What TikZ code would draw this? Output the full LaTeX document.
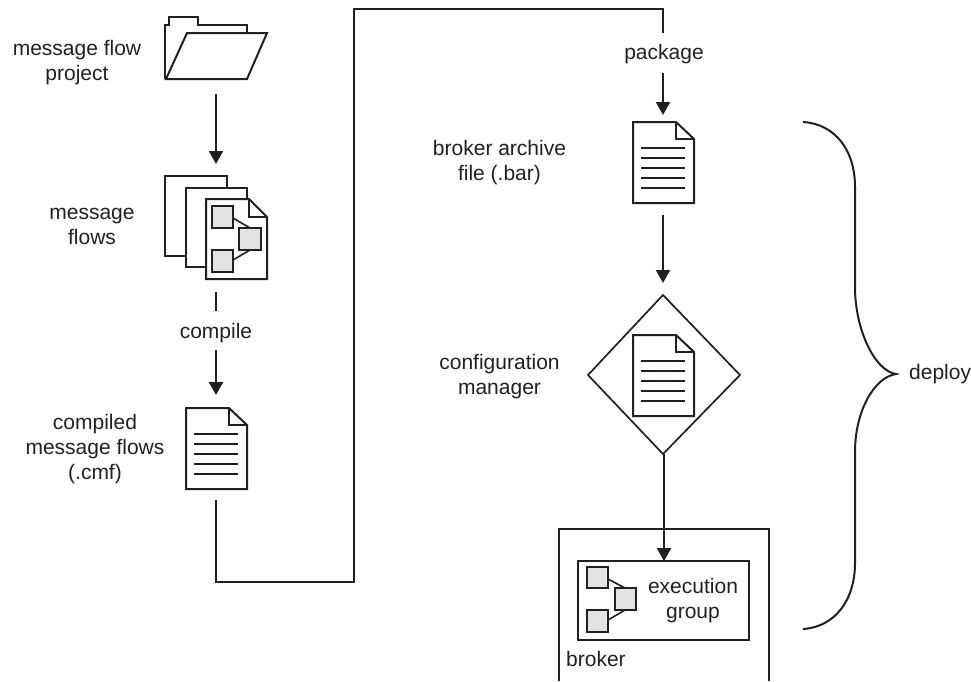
\documentclass[tikz,border=0pt]{standalone}
\usepackage{fontspec}
\setmainfont{Liberation Sans}
\usetikzlibrary{arrows.meta}
\definecolor{ink}{HTML}{231F20}
\definecolor{boxfill}{HTML}{E2E3E4}
\tikzset{
  x=1pt,y=-1pt,
  line/.style={draw=ink,line width=2pt,line join=miter},
  thin line/.style={draw=ink,line width=1.6pt},
  arrowed/.style={draw=ink,line width=2.2pt,-{Triangle[width=14pt,length=13pt]}},
  label/.style={font=\fontsize{21}{25}\selectfont,text=ink,align=center,inner sep=0pt},
  mini/.style={line,fill=boxfill},
  pagebox/.style={line,fill=white},
}
\newcommand{\docicon}[2]{%
  \begin{scope}[shift={(#1,#2)}]
  \draw[pagebox] (0,0) -- (43,0) -- (61,17) -- (61,81) -- (0,81) -- cycle;
  \draw[line] (43,0) -- (43,17) -- (61,17);
  \foreach \yy in {26,36,46,56,66}{\draw[thin line] (8,\yy) -- (52,\yy);}
  \end{scope}}
\begin{document}
\begin{tikzpicture}
\useasboundingbox (0,0) rectangle (971,681);
% folder
\draw[line] (165,79) -- (165,25) -- (169,25) -- (169,17) -- (198,17) -- (198,25) -- (247,25) -- (247,33);
\draw[line] (166,79) -- (187,33) -- (267,33) -- (247,79) -- cycle;
\coordinate (folderout) at (216,94);
\coordinate (flowsin) at (216,164);
\draw[arrowed] (folderout) -- (flowsin);
% message flows
\draw[pagebox] (165,176) rectangle (227,256);
\draw[pagebox] (186,188) rectangle (247,267);
\draw[pagebox] (206,199) -- (249,199) -- (267,217) -- (267,279) -- (206,279) -- cycle;
\draw[line] (249,199) -- (249,217) -- (267,217);
\draw[thin line] (233,218) -- (250,228);
\draw[thin line] (233,260) -- (250,250);
\draw[mini] (212,206) rectangle (233,228);
\draw[mini] (239,228) rectangle (261,250);
\draw[mini] (212,250) rectangle (233,272);
\coordinate (flowsout) at (216,292);
\coordinate (compiletop) at (216,311);
\draw[line] (flowsout) -- (compiletop);
\node[label] (compile) at (216,333) {compile};
\coordinate (compileout) at (216,350);
\coordinate (cmfin) at (216,395);
\draw[arrowed] (compileout) -- (cmfin);
\docicon{186}{408}
% long connector
\coordinate (cmfout) at (216,500);
\coordinate (pkgtop) at (663,33);
\draw[line] (cmfout) -- (216,582) -- (353.5,582) -- (353.5,9) -- (663,9) -- (pkgtop);
\node[label] (package) at (664,54) {package};
\coordinate (pkgout) at (663,73);
\coordinate (barin) at (663,115);
\draw[arrowed] (pkgout) -- (barin);
\docicon{633}{122}
\coordinate (barout) at (663,215);
\coordinate (diatop) at (663,283);
\draw[arrowed] (barout) -- (diatop);
% diamond
\draw[line,line width=1.7pt] (663,295) -- (740,375) -- (663,454) -- (588,375) -- cycle;
\docicon{633}{335}
% broker
\draw[line] (559,681) -- (559,529) -- (769,529) -- (769,681);
\draw[line] (578,561) rectangle (749,640);
\draw[arrowed] (664,454) -- (664,561);
\draw[thin line] (608,579) -- (625,588);
\draw[thin line] (608,620) -- (625,610);
\draw[mini] (587,567) rectangle (608,588);
\draw[mini] (615,588) rectangle (636,610);
\draw[mini] (587,610) rectangle (608,632);
\node[label] (exec) at (693,601) {execution\\group};
\node[label,anchor=west] (broker) at (566,659) {broker};
% labels
\node[label] (mfp) at (77,63) {message flow\\project};
\node[label] (mf) at (92,226) {message\\flows};
\node[label] (cmf) at (95,449) {compiled\\message flows\\(.cmf)};
\node[label] (bar) at (499.5,163) {broker archive\\file (.bar)};
\node[label] (cfg) at (499.5,377) {configuration\\manager};
\node[label,anchor=west] (deploy) at (909,374) {deploy};
% brace
\draw[line] (803,122) .. controls (835,124) and (855,150) .. (855,187) -- (855,287) .. controls (855,330) and (875,371) .. (896,374) .. controls (875,377) and (855,410) .. (855,452) -- (855,563) .. controls (855,600) and (835,627) .. (803,629);
\end{tikzpicture}
\end{document}
